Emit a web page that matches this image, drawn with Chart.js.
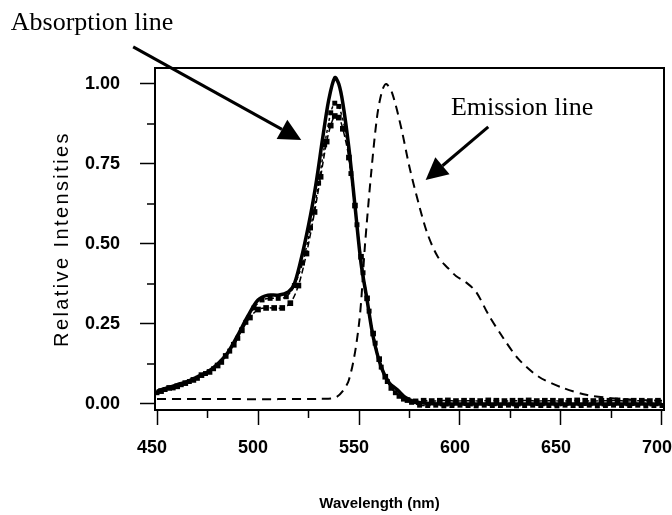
<!DOCTYPE html>
<html>
<head>
<meta charset="utf-8">
<script src="https://cdn.jsdelivr.net/npm/chart.js@4"></script>
<style>
  html,body{margin:0;padding:0;background:#fff;}
  canvas{display:block;}
</style>
</head>
<body>
<canvas id="chart" width="672" height="515"></canvas>
<script>
// ---- data ----
// main absorption (solid)
const absWl   = [450,455,460,465,470,475,480,485,490,495,500,505,510,515,518,522,526,529,532,535,538,540,542,545,548,551,554,557,561,565,569,573,577,582,590,620,650,680,700];
const absMain = [0.04,0.05,0.06,0.07,0.085,0.10,0.125,0.16,0.215,0.275,0.325,0.34,0.34,0.35,0.375,0.47,0.59,0.70,0.83,0.95,1.02,1.00,0.94,0.80,0.62,0.44,0.325,0.21,0.115,0.065,0.044,0.02,0.008,0.003,0.0,0.0,0.0,0.0,0.0];

// second absorption run (short dashes, small squares)
const absBWl = [450,454,458,462,466,470,474,478,482,486,490,494,498,502,506,510,514,518,522,526,530,533,536,538,540,543,546,549,552,555,558,561,564,568,572,576,
                580,584,588,592,596,600,604,608,612,616,620,624,628,632,636,640,644,648,652,656,660,664,668,672,676,680,684,688,692,696,700];
const absB   = [0.035,0.045,0.05,0.06,0.07,0.08,0.095,0.11,0.13,0.165,0.205,0.255,0.30,0.325,0.33,0.33,0.335,0.37,0.44,0.55,0.69,0.81,0.91,0.94,0.93,0.86,0.72,0.56,0.41,0.29,0.19,0.115,0.07,0.035,0.015,0.005,
                -0.004,-0.005,-0.004,-0.006,-0.005,-0.004,-0.005,-0.006,-0.004,-0.005,-0.005,-0.004,-0.006,-0.005,-0.004,-0.005,-0.005,-0.006,-0.004,-0.005,-0.005,-0.004,-0.006,-0.005,-0.004,-0.005,-0.005,-0.004,-0.006,-0.005,-0.005];

// third absorption run (dashed, big squares)
const absCWl = [452,456,460,464,468,472,476,480,484,488,492,496,500,504,508,512,516,520,524,528,531,534,536,538,540,542,545,548,551,554,557,560,563,566,570,574,578,
                582,586,590,594,598,602,606,610,614,618,622,626,630,634,638,642,646,650,654,658,662,666,670,674,678,682,686,690,694,698];
const absC   = [0.04,0.05,0.055,0.065,0.075,0.09,0.10,0.12,0.15,0.185,0.23,0.27,0.295,0.30,0.30,0.30,0.315,0.37,0.47,0.60,0.71,0.82,0.87,0.90,0.895,0.86,0.77,0.62,0.46,0.33,0.22,0.14,0.085,0.05,0.025,0.012,0.008,
                0.010,0.009,0.010,0.011,0.009,0.010,0.010,0.009,0.011,0.010,0.009,0.010,0.010,0.011,0.009,0.010,0.010,0.009,0.010,0.011,0.010,0.009,0.010,0.010,0.011,0.009,0.010,0.010,0.009,0.010,0.010];

// emission (long dashes)
const emWl  = [450,470,490,510,530,539,545,550,553,556,559,561.5,563.5,566.5,571,575,580,584,589,594,598,603,608,614,621,629,639,651,663,675,690,700];
const emVal = [0.015,0.015,0.015,0.015,0.016,0.022,0.075,0.25,0.50,0.72,0.90,0.98,1.00,0.97,0.86,0.74,0.615,0.53,0.46,0.425,0.40,0.38,0.35,0.28,0.21,0.14,0.085,0.05,0.028,0.018,0.012,0.01];

const xTicks = [450,500,550,600,650,700];
const xMinorTicks = [475,525,575,625,675];
const yTicks = [0,0.25,0.5,0.75,1.0];
const yMinorTicks = [0.125,0.375,0.625,0.875];

// annotation labels with their arrows, in data units (wavelength, intensity)
const notes = [
  {text:'Absorption line', at:[377.6,1.169], from:[438.2,1.116], to:[521.4,0.825]},
  {text:'Emission line',   at:[595.5,0.902], from:[614.0,0.866], to:[583.0,0.700]}
];

const pts = (xs, ys) => xs.map((x,i)=>({x, y:ys[i]}));

const overlay = {
  id:'overlay',
  afterDraw(chart){
    const {ctx, chartArea:a, scales:{x, y}} = chart;
    ctx.save();
    // frame top/right
    ctx.strokeStyle = '#000';
    ctx.lineWidth = 2;
    ctx.beginPath();
    ctx.moveTo(a.left, a.top); ctx.lineTo(a.right, a.top); ctx.lineTo(a.right, a.bottom);
    ctx.stroke();
    // minor ticks
    ctx.lineWidth = 1.5;
    ctx.beginPath();
    yMinorTicks.forEach(v=>{ const py = y.getPixelForValue(v); ctx.moveTo(a.left-8, py); ctx.lineTo(a.left, py); });
    xMinorTicks.forEach(v=>{ const px = x.getPixelForValue(v); ctx.moveTo(px, a.bottom); ctx.lineTo(px, a.bottom+8); });
    ctx.stroke();

    // axis titles
    ctx.fillStyle = '#000';
    ctx.textAlign = 'center';
    ctx.textBaseline = 'middle';
    ctx.font = 'bold 15px "Liberation Sans", Arial, sans-serif';
    ctx.fillText('Wavelength (nm)', (a.left+a.right)/2 - 30, 504);
    ctx.save();
    ctx.translate(62, (a.top+a.bottom)/2);
    ctx.rotate(-Math.PI/2);
    ctx.font = '20px "Liberation Sans", Arial, sans-serif';
    ctx.letterSpacing = '2.4px';
    ctx.fillText('Relative Intensities', 0, 0);
    ctx.restore();

    // annotations
    ctx.font = '26px "Liberation Serif", "Times New Roman", serif';
    ctx.textAlign = 'left';
    ctx.textBaseline = 'alphabetic';
    notes.forEach(n=>{
      ctx.fillText(n.text, x.getPixelForValue(n.at[0]), y.getPixelForValue(n.at[1]));
      const x0 = x.getPixelForValue(n.from[0]), y0 = y.getPixelForValue(n.from[1]);
      const x1 = x.getPixelForValue(n.to[0]),   y1 = y.getPixelForValue(n.to[1]);
      const ang = Math.atan2(y1-y0, x1-x0), hl = 22, hw = 11;
      const bx = x1 - hl*Math.cos(ang), by = y1 - hl*Math.sin(ang);
      ctx.lineWidth = 3;
      ctx.beginPath(); ctx.moveTo(x0,y0); ctx.lineTo(bx,by); ctx.stroke();
      ctx.beginPath();
      ctx.moveTo(x1,y1);
      ctx.lineTo(bx + hw*Math.sin(ang), by - hw*Math.cos(ang));
      ctx.lineTo(bx - hw*Math.sin(ang), by + hw*Math.cos(ang));
      ctx.closePath(); ctx.fill();
    });
    ctx.restore();
  }
};

const tickFont = {family:'"Liberation Sans", Arial, sans-serif', size:18, weight:'bold'};

new Chart(document.getElementById('chart'), {
  type:'line',
  data:{datasets:[
    {data:pts(emWl, emVal), borderColor:'#000', borderWidth:2, borderDash:[9,6], pointRadius:0, tension:0.3},
    {data:pts(absCWl, absC), borderColor:'#000', borderWidth:1.5, borderDash:[6,3], pointStyle:'rect', pointRadius:4, backgroundColor:'#000', pointBorderWidth:0, tension:0.3},
    {data:pts(absBWl, absB), borderColor:'#000', borderWidth:1.5, borderDash:[3,3], pointStyle:'rect', pointRadius:3.5, backgroundColor:'#000', pointBorderWidth:0, tension:0.3},
    {data:pts(absWl, absMain), borderColor:'#000', borderWidth:3.5, pointRadius:0, tension:0.3}
  ]},
  options:{
    responsive:false,
    devicePixelRatio:1,
    animation:false,
    layout:{padding:{top:68, right:8, left:0, bottom:0}},
    plugins:{legend:{display:false}, tooltip:{enabled:false}},
    scales:{
      x:{
        type:'linear', min:449, max:701,
        afterBuildTicks:s=>{ s.ticks = xTicks.map(v=>({value:v})); },
        afterFit:s=>{ s.height = 105; s.paddingLeft = 0; s.paddingRight = 0; },
        grid:{drawOnChartArea:false, drawTicks:true, tickLength:15, tickWidth:1.5, tickColor:'#000'},
        border:{display:true, color:'#000', width:2},
        ticks:{color:'#000', font:tickFont, padding:12, labelOffset:-5, maxRotation:0, callback:v=>String(v)}
      },
      y:{
        min:-0.019, max:1.05,
        afterBuildTicks:s=>{ s.ticks = yTicks.map(v=>({value:v})); },
        afterFit:s=>{ s.width = 155; s.paddingTop = 0; s.paddingBottom = 0; },
        grid:{drawOnChartArea:false, drawTicks:true, tickLength:15, tickWidth:1.5, tickColor:'#000'},
        border:{display:true, color:'#000', width:2},
        ticks:{color:'#000', font:tickFont, padding:20, callback:v=>v.toFixed(2)}
      }
    }
  },
  plugins:[overlay]
});
</script>
</body>
</html>
